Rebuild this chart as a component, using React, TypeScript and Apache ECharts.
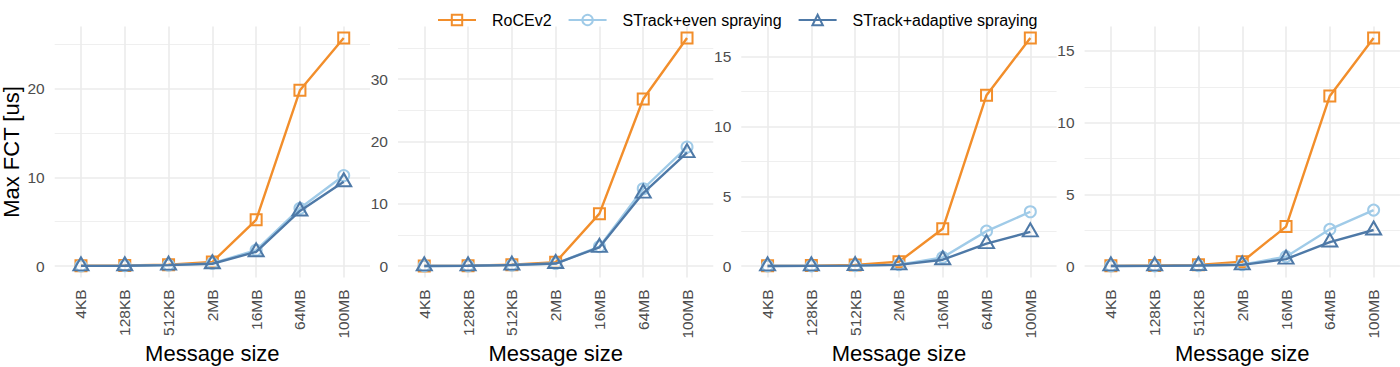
import React, { useEffect, useRef } from "react";
import * as echarts from "echarts";

const categories = ["4KB", "128KB", "512KB", "2MB", "16MB", "64MB", "100MB"];
const seriesNames = ["RoCEv2", "STrack+even spraying", "STrack+adaptive spraying"];

// Panel 1
const p1RoCE = [0.02, 0.05, 0.15, 0.45, 5.2, 19.8, 25.7];
const p1Even = [0.01, 0.03, 0.1, 0.3, 1.8, 6.5, 10.2];
const p1Adaptive = [0.01, 0.03, 0.1, 0.25, 1.6, 6.2, 9.5];
const p1Ticks = [0, 10, 20];
const p1Minor = [5, 15, 25];

// Panel 2
const p2RoCE = [0.02, 0.05, 0.2, 0.6, 8.4, 26.8, 36.6];
const p2Even = [0.01, 0.03, 0.15, 0.4, 3.1, 12.4, 19.1];
const p2Adaptive = [0.01, 0.03, 0.15, 0.4, 3.0, 11.7, 18.2];
const p2Ticks = [0, 10, 20, 30];
const p2Minor = [5, 15, 25, 35];

// Panel 3
const p3RoCE = [0.01, 0.03, 0.08, 0.3, 2.67, 12.25, 16.35];
const p3Even = [0.005, 0.01, 0.03, 0.1, 0.62, 2.5, 3.89];
const p3Adaptive = [0.005, 0.01, 0.03, 0.08, 0.45, 1.6, 2.45];
const p3Ticks = [0, 5, 10, 15];
const p3Minor = [2.5, 7.5, 12.5];

// Panel 4
const p4RoCE = [0.01, 0.03, 0.08, 0.3, 2.75, 11.86, 15.9];
const p4Even = [0.005, 0.01, 0.03, 0.1, 0.65, 2.56, 3.9];
const p4Adaptive = [0.005, 0.01, 0.03, 0.08, 0.48, 1.67, 2.51];
const p4Ticks = [0, 5, 10, 15];
const p4Minor = [2.5, 7.5, 12.5];

const panels = [
  { values: [p1RoCE, p1Even, p1Adaptive], ticks: p1Ticks, minor: p1Minor },
  { values: [p2RoCE, p2Even, p2Adaptive], ticks: p2Ticks, minor: p2Minor },
  { values: [p3RoCE, p3Even, p3Adaptive], ticks: p3Ticks, minor: p3Minor },
  { values: [p4RoCE, p4Even, p4Adaptive], ticks: p4Ticks, minor: p4Minor },
];

const colors = ["#F28E2B", "#A0CBE8", "#4E79A7"];
const symbols = ["rect", "circle", "triangle"];
const symbolSizes: any[] = [11, 11, [15, 13]];
const symbolOffsets: any[] = [[0, 0], [0, 0], [0, -2]];
const FONT = "Liberation Sans, Arial, Helvetica, sans-serif";

export default function App() {
  const ref = useRef<HTMLDivElement>(null);
  useEffect(() => {
    if (!ref.current) return;
    const chart = echarts.init(ref.current, null, { renderer: "svg" });
    const grids: any[] = [];
    const xAxes: any[] = [];
    const yAxes: any[] = [];
    const series: any[] = [];
    const stride = 343.3;
    const gTop = 26.6;
    const gHeight = 250.8;
    const gWidth = 315.3;
    panels.forEach((p, i) => {
      const dataMax = Math.max(...p.values.flat());
      const dataMin = 0;
      const span = dataMax - dataMin;
      const yMin = dataMin - span * 0.05;
      const yMax = dataMax + span * 0.05;
      grids.push({
        left: 54.7 + i * stride,
        top: gTop,
        width: gWidth,
        height: gHeight,
        containLabel: false,
        outerBoundsMode: "none",
      });
      xAxes.push({
        type: "value",
        gridIndex: i,
        min: -0.6,
        max: categories.length - 1 + 0.6,
        name: "Message size",
        nameLocation: "middle",
        nameGap: 65,
        nameMoveOverlap: false,
        nameTextStyle: { fontSize: 22, color: "#000", fontFamily: FONT },
        axisLine: { show: false },
        axisTick: { show: false, customValues: categories.map((_, j) => j) },
        axisLabel: {
          customValues: categories.map((_, j) => j),
          formatter: (v: number) => categories[Math.round(v)] ?? "",
          rotate: 90,
          margin: 12,
          fontSize: 15.5,
          color: "#4D4D4D",
          fontFamily: FONT,
        },
        splitLine: { show: true, lineStyle: { color: "#EBEBEB", width: 1.6 } },
        minorSplitLine: { show: false },
      });
      yAxes.push({
        type: "value",
        gridIndex: i,
        min: yMin,
        max: yMax,
        name: i === 0 ? "Max FCT [us]" : "",
        nameLocation: "middle",
        nameGap: 32,
        nameMoveOverlap: false,
        nameTextStyle: { fontSize: 22, color: "#000", fontFamily: FONT },
        axisLine: { show: false },
        axisTick: { show: false, customValues: p.ticks },
        axisLabel: {
          customValues: p.ticks,
          margin: 10,
          fontSize: 15.5,
          color: "#4D4D4D",
          fontFamily: FONT,
        },
        splitLine: { show: true, lineStyle: { color: "#EBEBEB", width: 1.6 } },
      });
      yAxes.push({
        type: "value",
        gridIndex: i,
        position: "left",
        min: yMin,
        max: yMax,
        axisLine: { show: false },
        axisTick: { show: false, customValues: p.minor },
        axisLabel: { show: false, customValues: p.minor },
        splitLine: { show: true, lineStyle: { color: "#EDEDED", width: 0.9 } },
        z: 0,
      });
      p.values.forEach((vals, k) => {
        series.push({
          type: "line",
          name: seriesNames[k],
          xAxisIndex: i,
          yAxisIndex: 2 * i,
          data: categories.map((_, j) => [j, vals[j]]),
          symbol: symbols[k],
          symbolSize: symbolSizes[k],
          symbolOffset: symbolOffsets[k],
          showAllSymbol: true,
          clip: false,
          lineStyle: { color: colors[k], width: 2.4 },
          itemStyle: { color: "rgba(255,255,255,0)", borderColor: colors[k], borderWidth: 2 },
          emphasis: { disabled: true },
          z: 2 + k,
        });
      });
    });

    chart.setOption({
      animation: false,
      backgroundColor: "#fff",
      textStyle: { fontFamily: FONT },
      legend: {
        top: 7,
        left: 432,
        itemWidth: 38,
        itemHeight: 13,
        itemGap: 16,
        data: seriesNames,
        selectedMode: false,
        textStyle: { fontSize: 16, color: "#000", fontFamily: FONT, padding: [0, 0, 0, 11] },
      },
      grid: grids,
      xAxis: xAxes,
      yAxis: yAxes,
      series,
    });
    return () => chart.dispose();
  }, []);
  return (
    <div
      ref={ref}
      style={{ position: "fixed", left: 0, top: 0, width: 1400, height: 367 }}
    />
  );
}
